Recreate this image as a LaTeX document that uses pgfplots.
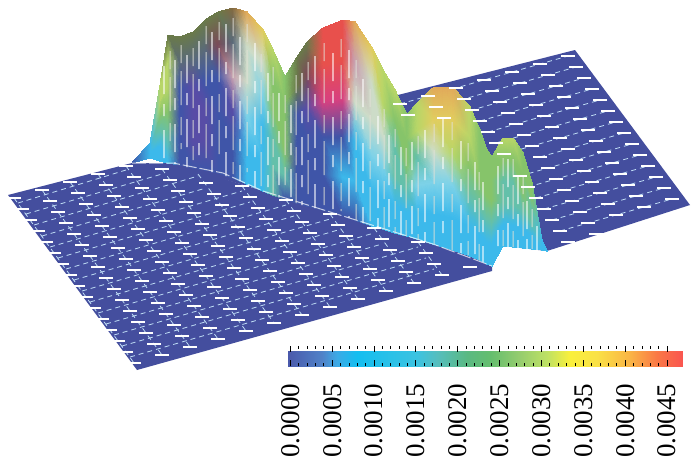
\documentclass[border=0pt]{standalone}
\usepackage{pgfplots}
\usepackage{fontspec}
\setmainfont{Liberation Serif}
\newfontfamily\lab{Liberation Serif}
\pgfplotsset{compat=1.18}
\definecolor{plate}{RGB}{68,78,158}
\definecolor{cB}{RGB}{63,85,168}
\definecolor{cV}{RGB}{88,76,166}
\definecolor{cK}{RGB}{60,185,235}
\definecolor{cC}{RGB}{125,210,232}
\definecolor{cW}{RGB}{205,220,200}
\definecolor{cT}{RGB}{100,192,170}
\definecolor{cG}{RGB}{134,196,106}
\definecolor{cL}{RGB}{184,214,104}
\definecolor{cY}{RGB}{225,205,95}
\definecolor{cO}{RGB}{225,170,90}
\definecolor{cR}{RGB}{232,80,76}
\definecolor{cM}{RGB}{216,64,127}
\definecolor{cQ}{RGB}{200,160,175}
\definecolor{cP}{RGB}{122,74,88}
\definecolor{cD}{RGB}{90,106,122}
\definecolor{cE}{RGB}{106,122,74}
\definecolor{cN}{RGB}{130,105,65}
\begin{document}
\begin{tikzpicture}
\path[use as bounding box] (0pt,0pt) rectangle (692pt,467pt);
\begin{axis}[hide axis, clip=false, at={(0pt,467pt)}, anchor=origin,
  x={(1pt,0pt)}, y={(0pt,-1pt)}, z={(0.001pt,4pt)},
  xmin=0,xmax=692,ymin=0,ymax=467,zmin=0,zmax=50]
% back plate
\addplot3[fill=plate,draw=none] coordinates {(150,158,0)(575,50,0)(690,205,0)(547,251,0)(503,246,0)(400,230,0)(150,158,0)};
% front plate
\addplot3[fill=plate,draw=none] coordinates {(8,195,0)(137,370,0)(492,271,0)(492,266,0)(470,256,0)(453,250,0)(433,244,0)(343,216,0)(263,191,0)(173,163,0)(132,163,0)(8,195,0)};
% fine dashes
\addplot3[color={rgb,255:red,190;green,220;blue,245},line width=0.8pt,dash pattern=on 5pt off 4pt,unbounded coords=jump] table {
x y z
18 203 0
126 170 0
nan nan nan
26 214 0
162 174 0
nan nan nan
34 225 0
198 176 0
nan nan nan
42 236 0
206 188 0
nan nan nan
50 247 0
242 191 0
nan nan nan
58 258 0
250 202 0
nan nan nan
66 269 0
286 205 0
nan nan nan
74 280 0
294 216 0
nan nan nan
82 291 0
330 219 0
nan nan nan
90 302 0
338 230 0
nan nan nan
98 313 0
374 233 0
nan nan nan
106 324 0
382 244 0
nan nan nan
114 335 0
418 247 0
nan nan nan
122 346 0
426 258 0
nan nan nan
130 357 0
434 269 0
nan nan nan
14 198 0
134 363 0
nan nan nan
42 190 0
162 355 0
nan nan nan
70 182 0
190 347 0
nan nan nan
98 174 0
218 339 0
nan nan nan
126 166 0
246 331 0
nan nan nan
162 169 0
274 323 0
nan nan nan
198 174 0
302 315 0
nan nan nan
242 186 0
330 307 0
nan nan nan
286 200 0
358 299 0
nan nan nan
330 214 0
386 291 0
nan nan nan
374 228 0
414 283 0
nan nan nan
418 242 0
442 275 0
nan nan nan
400 104 0
568 56 0
nan nan nan
408 115 0
576 67 0
nan nan nan
444 118 0
584 78 0
nan nan nan
480 121 0
592 89 0
nan nan nan
488 132 0
600 100 0
nan nan nan
496 143 0
608 111 0
nan nan nan
504 154 0
616 122 0
nan nan nan
540 157 0
624 133 0
nan nan nan
520 176 0
632 144 0
nan nan nan
528 187 0
640 155 0
nan nan nan
536 198 0
648 166 0
nan nan nan
544 209 0
656 177 0
nan nan nan
552 220 0
664 188 0
nan nan nan
560 231 0
672 199 0
};
% speckles
\addplot3[only marks,mark=-,mark size=7pt,mark options={white,line width=2pt}] table {
x y z
14 198 0
42 190 0
70 182 0
98 174 0
126 166 0
22 209 0
50 201 0
78 193 0
106 185 0
134 177 0
162 169 0
30 220 0
58 212 0
86 204 0
114 196 0
142 188 0
170 180 0
38 231 0
66 223 0
94 215 0
122 207 0
150 199 0
178 191 0
206 183 0
46 242 0
74 234 0
102 226 0
130 218 0
158 210 0
186 202 0
214 194 0
242 186 0
54 253 0
82 245 0
110 237 0
138 229 0
166 221 0
194 213 0
222 205 0
250 197 0
62 264 0
90 256 0
118 248 0
146 240 0
174 232 0
202 224 0
230 216 0
258 208 0
286 200 0
70 275 0
98 267 0
126 259 0
154 251 0
182 243 0
210 235 0
238 227 0
266 219 0
294 211 0
78 286 0
106 278 0
134 270 0
162 262 0
190 254 0
218 246 0
246 238 0
274 230 0
302 222 0
330 214 0
86 297 0
114 289 0
142 281 0
170 273 0
198 265 0
226 257 0
254 249 0
282 241 0
310 233 0
338 225 0
94 308 0
122 300 0
150 292 0
178 284 0
206 276 0
234 268 0
262 260 0
290 252 0
318 244 0
346 236 0
374 228 0
102 319 0
130 311 0
158 303 0
186 295 0
214 287 0
242 279 0
270 271 0
298 263 0
326 255 0
354 247 0
382 239 0
110 330 0
138 322 0
166 314 0
194 306 0
222 298 0
250 290 0
278 282 0
306 274 0
334 266 0
362 258 0
390 250 0
418 242 0
118 341 0
146 333 0
174 325 0
202 317 0
230 309 0
258 301 0
286 293 0
314 285 0
342 277 0
370 269 0
398 261 0
426 253 0
126 352 0
154 344 0
182 336 0
210 328 0
238 320 0
266 312 0
294 304 0
322 296 0
350 288 0
378 280 0
406 272 0
434 264 0
134 363 0
162 355 0
190 347 0
218 339 0
246 331 0
274 323 0
302 315 0
330 307 0
358 299 0
386 291 0
414 283 0
442 275 0
470 267 0
568 56 0
540 64 0
512 72 0
484 80 0
456 88 0
428 96 0
400 104 0
576 67 0
548 75 0
520 83 0
492 91 0
464 99 0
436 107 0
408 115 0
584 78 0
556 86 0
528 94 0
500 102 0
472 110 0
444 118 0
592 89 0
564 97 0
536 105 0
508 113 0
480 121 0
600 100 0
572 108 0
544 116 0
516 124 0
488 132 0
608 111 0
580 119 0
552 127 0
524 135 0
496 143 0
616 122 0
588 130 0
560 138 0
532 146 0
504 154 0
624 133 0
596 141 0
568 149 0
540 157 0
632 144 0
604 152 0
576 160 0
548 168 0
520 176 0
640 155 0
612 163 0
584 171 0
556 179 0
528 187 0
648 166 0
620 174 0
592 182 0
564 190 0
536 198 0
656 177 0
628 185 0
600 193 0
572 201 0
544 209 0
664 188 0
636 196 0
608 204 0
580 212 0
552 220 0
672 199 0
644 207 0
616 215 0
588 223 0
560 231 0
596 234 0
568 242 0
};
% humps
\addplot3[surf,shader=interp,mesh/color input=explicit,z buffer=none] table[meta=c] {
x y z c
132 163 0 color=cB
132 163 0 color=cB
132 163 0 color=cB
132 163 0 color=cB
132 163 0 color=cB
132 163 0 color=cB

150 158 0 color=cK
150 158 0.75 color=cK
150 158 1.5 color=cK
150 158 2.25 color=cK
150 158 3 color=cK
150 158 3.75 color=cK

160 161 0 color=cK
160 161 3.8 color=cK
160 161 7.6 color=cT
160 161 11.4 color=cG
160 161 15.2 color=cL
160 161 19 color=cL

168 163 0 color=cK
168 163 6.4 color=cT
168 163 12.8 color=cG
168 163 19.2 color=cL
168 163 25.6 color=cL
168 163 32 color=cE

180 165 0 color=cB
180 165 6.4 color=cB
180 165 12.8 color=cB
180 165 19.2 color=cB
180 165 25.6 color=cD
180 165 32 color=cE

193 168 0 color=cB
193 168 6.8 color=cV
193 168 13.6 color=cV
193 168 20.4 color=cV
193 168 27.2 color=cD
193 168 34 color=cE

205 170 0 color=cB
205 170 7.5 color=cV
205 170 15 color=cV
205 170 22.5 color=cB
205 170 30 color=cD
205 170 37.5 color=cE

218 173 0 color=cB
218 173 8.05 color=cB
218 173 16.1 color=cB
218 173 24.15 color=cB
218 173 32.2 color=cP
218 173 40.25 color=cE

233 178 0 color=cB
233 178 8.5 color=cB
233 178 17 color=cV
233 178 25.5 color=cQ
233 178 34 color=cD
233 178 42.5 color=cN

247 184 0 color=cK
247 184 8.6 color=cK
247 184 17.2 color=cC
247 184 25.8 color=cW
247 184 34.4 color=cW
247 184 43 color=cO

263 191 0 color=cK
263 191 8.05 color=cK
263 191 16.1 color=cK
263 191 24.15 color=cC
263 191 32.2 color=cW
263 191 40.25 color=cY

273 195 0 color=cT
273 195 7.25 color=cT
273 195 14.5 color=cT
273 195 21.75 color=cG
273 195 29 color=cG
273 195 36.25 color=cL

285 199 0 color=cB
285 199 6.1 color=cT
285 199 12.2 color=cG
285 199 18.3 color=cG
285 199 24.4 color=cG
285 199 30.5 color=cG

297 203 0 color=cB
297 203 7.3 color=cB
297 203 14.6 color=cB
297 203 21.9 color=cB
297 203 29.2 color=cE
297 203 36.5 color=cE

307 206 0 color=cB
307 206 8.2 color=cB
307 206 16.4 color=cB
307 206 24.6 color=cV
307 206 32.8 color=cP
307 206 41 color=cE

323 210 0 color=cB
323 210 9.1 color=cB
323 210 18.2 color=cB
323 210 27.3 color=cM
323 210 36.4 color=cR
323 210 45.5 color=cR

343 216 0 color=cB
343 216 9.8 color=cK
343 216 19.6 color=cB
343 216 29.4 color=cM
343 216 39.2 color=cR
343 216 49 color=cR

355 220 0 color=cB
355 220 9.9 color=cK
355 220 19.8 color=cK
355 220 29.7 color=cW
355 220 39.6 color=cQ
355 220 49.5 color=cO

372 226 0 color=cK
372 226 8.9 color=cK
372 226 17.8 color=cC
372 226 26.7 color=cW
372 226 35.6 color=cW
372 226 44.5 color=cY

383 229 0 color=cK
383 229 7.95 color=cK
383 229 15.9 color=cC
383 229 23.85 color=cW
383 229 31.8 color=cL
383 229 39.75 color=cL

395 233 0 color=cK
395 233 7.15 color=cK
395 233 14.3 color=cT
395 233 21.45 color=cT
395 233 28.6 color=cG
395 233 35.75 color=cL

407 236 0 color=cK
407 236 6.05 color=cK
407 236 12.1 color=cT
407 236 18.15 color=cG
407 236 24.2 color=cG
407 236 30.25 color=cG

417 239 0 color=cK
417 239 6.8 color=cK
417 239 13.6 color=cC
417 239 20.4 color=cT
417 239 27.2 color=cL
417 239 34 color=cL

433 244 0 color=cK
433 244 7.8 color=cK
433 244 15.6 color=cC
433 244 23.4 color=cW
433 244 31.2 color=cY
433 244 39 color=cO

453 250 0 color=cK
453 250 8.15 color=cK
453 250 16.3 color=cC
453 250 24.45 color=cL
453 250 32.6 color=cY
453 250 40.75 color=cO

470 256 0 color=cK
470 256 7.45 color=cK
470 256 14.9 color=cT
470 256 22.35 color=cG
470 256 29.8 color=cL
470 256 37.25 color=cL

480 260 0 color=cK
480 260 6.5 color=cK
480 260 13 color=cT
480 260 19.5 color=cG
480 260 26 color=cG
480 260 32.5 color=cG

487 264 0 color=cK
487 264 5.7 color=cK
487 264 11.4 color=cT
487 264 17.1 color=cG
487 264 22.8 color=cG
487 264 28.5 color=cG

492 266 0 color=cK
492 266 5.45 color=cK
492 266 10.9 color=cT
492 266 16.35 color=cG
492 266 21.8 color=cG
492 266 27.25 color=cG

503 246 0 color=cK
503 246 5.4 color=cK
503 246 10.8 color=cT
503 246 16.2 color=cT
503 246 21.6 color=cG
503 246 27 color=cL

513 247 0 color=cK
513 247 5.45 color=cK
513 247 10.9 color=cT
513 247 16.35 color=cT
513 247 21.8 color=cG
513 247 27.25 color=cL

523 248 0 color=cK
523 248 4.75 color=cK
523 248 9.5 color=cT
523 248 14.25 color=cG
523 248 19 color=cG
523 248 23.75 color=cG

532 249 0 color=cK
532 249 3.3 color=cK
532 249 6.6 color=cT
532 249 9.9 color=cT
532 249 13.2 color=cG
532 249 16.5 color=cG

542 250 0 color=cK
542 250 0.5 color=cK
542 250 1 color=cK
542 250 1.5 color=cK
542 250 2 color=cK
542 250 2.5 color=cK

547 251 0 color=cK
547 251 0 color=cK
547 251 0 color=cK
547 251 0 color=cK
547 251 0 color=cK
547 251 0 color=cK
};
% ridge foot line
\addplot3[white,line width=1pt,opacity=0.7,dash pattern=on 14pt off 3pt] coordinates {(132,163,0)(173,163,0)(223,173,0)(263,191,0)(343,216,0)(433,244,0)(492,266,0)};
% white stripes on the humps
\addplot3[white,line width=1.2pt,opacity=0.85,dash pattern=on 28pt off 10pt on 12pt off 14pt,mark=none,unbounded coords=jump] table {
x y z
164 162 24
164 162 0
nan nan nan
175 164 26
175 164 0
nan nan nan
187 167 28
187 167 0
nan nan nan
199 169 32
199 169 0
nan nan nan
212 172 35
212 172 0
nan nan nan
226 176 38
226 176 0
nan nan nan
240 181 36
240 181 0
nan nan nan
255 187 36
255 187 0
nan nan nan
268 193 30
268 193 0
nan nan nan
279 197 26
279 197 0
nan nan nan
291 201 24
291 201 0
nan nan nan
302 205 33
302 205 0
nan nan nan
315 208 38
315 208 0
nan nan nan
333 213 40
333 213 0
nan nan nan
349 218 42
349 218 0
nan nan nan
363 223 36
363 223 0
nan nan nan
378 228 28
378 228 0
nan nan nan
389 231 24
389 231 0
nan nan nan
401 235 22
401 235 0
nan nan nan
412 238 24
412 238 0
nan nan nan
425 242 28
425 242 0
nan nan nan
443 247 32
443 247 0
nan nan nan
461 253 28
461 253 0
nan nan nan
475 258 24
475 258 0
nan nan nan
483 262 20
483 262 0
nan nan nan
498 246 20
498 246 0
nan nan nan
508 247 22
508 247 0
nan nan nan
518 248 18
518 248 0
nan nan nan
527 249 12
527 249 0
nan nan nan
537 250 6
537 250 0
};
\addplot3[color={rgb,255:red,225;green,225;blue,215},line width=1pt,opacity=0.85,dash pattern=on 18pt off 8pt on 34pt off 12pt,mark=none,unbounded coords=jump] table {
x y z
170 163 28
170 163 4
nan nan nan
181 165 30
181 165 4
nan nan nan
193 168 30
193 168 2
nan nan nan
206 170 36
206 170 2
nan nan nan
219 174 38
219 174 4
nan nan nan
233 178 40
233 178 1
nan nan nan
247 184 40
247 184 3
nan nan nan
261 190 34
261 190 0
nan nan nan
273 195 32
273 195 0
nan nan nan
285 199 26
285 199 2
nan nan nan
296 203 32
296 203 0
nan nan nan
308 206 36
308 206 2
nan nan nan
324 211 42
324 211 0
nan nan nan
341 215 44
341 215 1
nan nan nan
356 220 40
356 220 0
nan nan nan
370 225 34
370 225 1
nan nan nan
384 229 30
384 229 0
nan nan nan
395 233 26
395 233 0
nan nan nan
406 236 22
406 236 0
nan nan nan
418 240 26
418 240 0
nan nan nan
434 244 30
434 244 0
nan nan nan
452 250 32
452 250 0
nan nan nan
468 255 28
468 255 0
nan nan nan
479 260 22
479 260 0
nan nan nan
503 246 22
503 246 0
nan nan nan
513 247 22
513 247 0
nan nan nan
523 248 18
523 248 0
nan nan nan
532 249 10
532 249 0
};
\end{axis}
\begin{axis}[hide axis, at={(287pt,101pt)}, anchor=south west, width=396pt, height=20pt, scale only axis,
  xmin=0,xmax=1,ymin=0,ymax=1,
  point meta min=-0.00004, point meta max=0.00469,
  colormap={cb}{rgb255(0pt)=(74,88,170); rgb255(35pt)=(80,130,200); rgb255(50pt)=(60,170,230); rgb255(70pt)=(20,190,240); rgb255(130pt)=(60,195,225); rgb255(150pt)=(85,190,190); rgb255(180pt)=(90,185,130); rgb255(203pt)=(100,190,110); rgb255(233pt)=(150,205,110); rgb255(260pt)=(190,225,100); rgb255(283pt)=(250,240,60); rgb255(310pt)=(250,225,70); rgb255(343pt)=(250,180,70); rgb255(370pt)=(250,120,70); rgb255(396pt)=(250,85,80)},
  colorbar horizontal,
  colorbar style={at={(0,0)},anchor=south west,width=396pt,height=20pt,
    scaled x ticks=false,
    xtick={0,0.0005,0.0010,0.0015,0.0020,0.0025,0.0030,0.0035,0.0040,0.0045},
    xticklabels={\lab 0.0000,\lab 0.0005,\lab 0.0010,\lab 0.0015,\lab 0.0020,\lab 0.0025,\lab 0.0030,\lab 0.0035,\lab 0.0040,\lab 0.0045},
    minor x tick num=4,
    tick align=inside, tick style={black,line width=0.9pt},
    major tick length=6pt, minor tick length=3pt,
    axis line style={draw=none},
    xticklabel style={rotate=90,anchor=east,font=\lab\fontsize{27}{27}\selectfont,xshift=-14pt},
  }]
\addplot[draw=none] coordinates {(0,0)};
\end{axis}
\end{tikzpicture}
\end{document}
